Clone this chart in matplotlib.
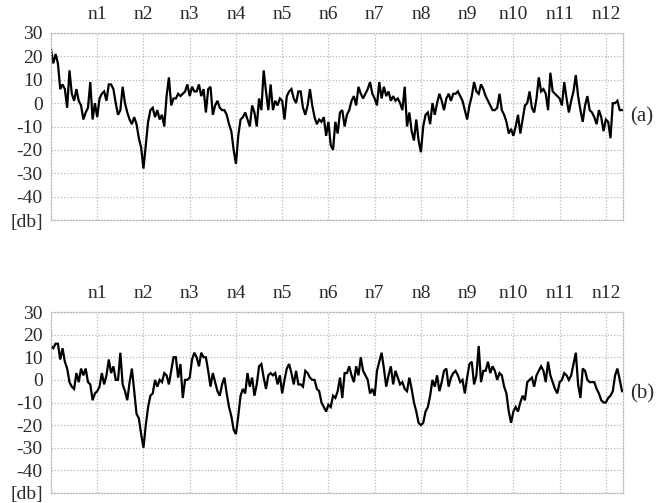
import numpy as np
import matplotlib
matplotlib.use("Agg")
import matplotlib.pyplot as plt
import matplotlib.transforms as mtransforms

plt.rcParams["font.family"] = "serif"
plt.rcParams["font.serif"] = ["Liberation Serif", "Times New Roman", "DejaVu Serif"]

# sample spacing along the channel axis (n-units per sample)
step = 0.05

signal_a = [
    23, 17, 21, 17, 6, 8, 6, -2, 14, 4,
    1, 6, 1, -1, -7, -4, -2, 9, -7, 0,
    -6, 2, 4, 5, 1, 8, 8, 6, 0, -5,
    -3, 7, 0, -4, -7, -9, -6, -9, -15, -19,
    -28, -18, -8, -3, -2, -6, -3, -7, -5, -10,
    3, 11, -1, 2, 2, 4, 3, 4, 5, 8,
    3, 7, 5, 5, 8, 3, 6, -4, 6, 7,
    -5, -1, 1, -2, -3, -3, -5, -9, -12, -20,
    -26, -14, -7, -6, -4, -7, -10, -1, -4, -10,
    2, -3, 14, 5, -3, 8, -3, 1, -1, 2,
    1, -7, 3, 5, 6, 2, 0, 5, 5, -2,
    -5, -1, 6, -1, -6, -9, -7, -8, -6, -14,
    -8, -18, -20, -8, -13, -4, -3, -10, -5, -3,
    1, 3, -1, 7, 4, 2, 4, 6, 9, 4,
    2, -1, 9, 2, 7, 3, 5, 1, 3, 1,
    2, 0, -3, 7, -10, -4, -12, -16, -7, -16,
    -21, -10, -5, -4, -9, 0, -5, 0, 4, 1,
    -3, 2, 4, 1, 4, 4, 5, 3, 1, -3,
    -7, -1, 3, 9, 5, 4, 8, 6, 3, 1,
    -1, -3, -3, -2, 4, -3, -5, -8, -13, -11,
    -14, -10, -5, -13, -7, -1, 0, 5, -2, -4,
    2, 11, 5, 6, 4, -3, 13, 5, 4, 3,
    2, -1, 9, 2, -4, 1, 5, 12, 3, -3,
    -8, -1, 3, -3, -4, -6, -9, -3, -6, -12,
    -7, -8, -15, 0, 0, 1, -3, -3,
]

signal_b = [
    15, 14, 16, 16, 9, 14, 8, 5, -1, -3,
    -4, 3, -1, 5, 2, 5, -1, -2, -9, -6,
    -5, -3, 3, -2, 2, 9, 3, 6, 0, 0,
    12, -2, -5, -9, -1, 5, -5, -15, -17, -24,
    -30, -20, -12, -7, -6, 0, -3, 0, -1, 3,
    2, -2, 4, 10, 10, 1, 7, -8, 0, 0,
    1, 9, 12, 10, 6, 12, 10, 10, 4, -3,
    3, -1, -5, -7, -2, 1, -6, -12, -16, -22,
    -24, -16, -7, -4, -6, 3, -3, 1, -7, -2,
    6, 7, 1, -4, 2, 3, 2, 3, -2, 2,
    -6, 0, 5, 7, 3, -2, 4, -2, -2, -3,
    4, 3, 1, 0, 0, -4, -5, -10, -12, -14,
    -11, -12, -7, -8, -5, 1, -8, 3, 3, 6,
    2, -1, 6, 2, 10, 4, 2, 0, -6, -4,
    -7, 4, 8, 12, 5, -3, 2, 6, -2, 4,
    1, -2, -1, -4, -5, 1, -4, -10, -14, -19,
    -20, -19, -14, -12, -7, 0, -3, 2, -5, -1,
    4, 5, -3, 1, 3, 4, 2, -1, 0, -6,
    1, 7, 8, -2, 2, 15, -1, 4, 4, 8,
    3, 6, 4, 0, 3, 2, -3, -6, -14, -19,
    -14, -12, -14, -10, -7, -9, -1, 0, 1, -3,
    2, 4, 6, 4, -1, 8, 2, -1, -4, -6,
    -1, 0, 3, 2, 0, 2, 7, 12, -2, -8,
    5, 4, 0, -1, -1, -1, -4, -6, -9, -10,
    -10, -8, -7, -5, 2, 5, 0, -5,
]

channel_labels = ["n1", "n2", "n3", "n4", "n5", "n6",
                  "n7", "n8", "n9", "n10", "n11", "n12"]
db_ticks = [30, 20, 10, 0, -10, -20, -30, -40, -50]
db_labels = ["30", "20", "10", "0", "-10", "-20", "-30", "-40", "[db]"]
panel_tags = ["(a)", "(b)"]

fig = plt.figure(figsize=(6.70, 5.03), dpi=100)
ax_a = fig.add_axes([0.0761, 0.5626, 0.8537, 0.3718])
ax_b = fig.add_axes([0.0761, 0.0199, 0.8537, 0.3598])

grid_color = "#b8b8b8"
text_color = "#2a2a2a"

for ax, sig, tag in zip([ax_a, ax_b], [signal_a, signal_b], panel_tags):
    y = np.asarray(sig, dtype=float)
    x = np.arange(len(y)) * step
    ax.plot(x, y, color="black", lw=1.6, solid_joinstyle="miter")
    ax.set_xlim(0, 12.37)
    ax.set_ylim(-50, 30)

    ax.set_xticks(range(1, 13))
    ax.set_xticklabels(channel_labels)
    ax.xaxis.tick_top()
    ax.set_yticks(db_ticks)
    ax.set_yticklabels(db_labels)
    ax.tick_params(axis="both", length=0, labelsize=14, colors=text_color)
    ax.tick_params(axis="x", pad=7)
    ax.tick_params(axis="y", pad=6)

    ax.grid(True, color=grid_color, linestyle=(0, (1, 1.5)), linewidth=0.9)
    for sp in ax.spines.values():
        sp.set_linestyle((0, (1, 1.5)))
        sp.set_color(grid_color)
        sp.set_linewidth(0.9)

    trans = mtransforms.blended_transform_factory(ax.transAxes, ax.transData)
    ax.text(1.012, -6, tag, transform=trans, fontsize=15, color=text_color,
            ha="left", va="center")

fig.savefig("out.png", dpi=100)
